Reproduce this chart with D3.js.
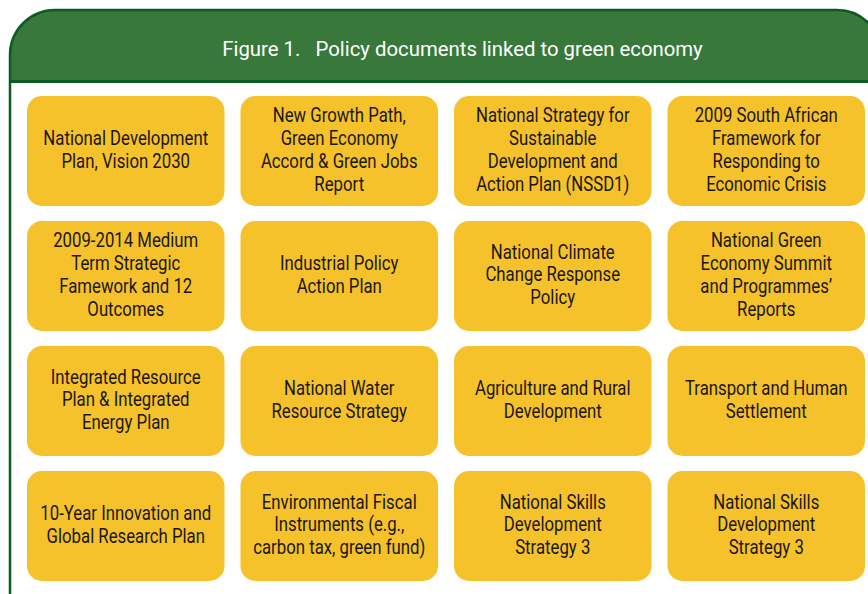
<!DOCTYPE html>
<html>
<head>
<meta charset="utf-8">
<script src="https://cdn.jsdelivr.net/npm/d3@7"></script>
<style>
  html, body { margin: 0; padding: 0; background: #ffffff; }
  svg { display: block; }
</style>
</head>
<body>
<div id="chart"></div>
<script>
// ---- data ----
const title = "Figure 1.   Policy documents linked to green economy";
const columns = [0, 1, 2, 3];
const rows = [0, 1, 2, 3];
const documents = [
  ["National Development", "Plan, Vision 2030"],
  ["New Growth Path,", "Green Economy", "Accord & Green Jobs", "Report"],
  ["National Strategy for", "Sustainable", "Development and", "Action Plan (NSSD1)"],
  ["2009 South African", "Framework for", "Responding to", "Economic Crisis"],
  ["2009-2014 Medium", "Term Strategic", "Famework and 12", "Outcomes"],
  ["Industrial Policy", "Action Plan"],
  ["National Climate", "Change Response", "Policy"],
  ["National Green", "Economy Summit", "and Programmes’", "Reports"],
  ["Integrated Resource", "Plan & Integrated", "Energy Plan"],
  ["National Water", "Resource Strategy"],
  ["Agriculture and Rural", "Development"],
  ["Transport and Human", "Settlement"],
  ["10-Year Innovation and", "Global Research Plan"],
  ["Environmental Fiscal", "Instruments (e.g.,", "carbon tax, green fund)"],
  ["National Skills", "Development", "Strategy 3"],
  ["National Skills", "Development", "Strategy 3"]
];

// ---- drawing ----
const W = 868, H = 594;
const FONT = "Roboto, 'Liberation Sans', sans-serif";
const svg = d3.select("#chart").append("svg").attr("width", W).attr("height", H);

function measure(str, size) {
  const t = svg.append("text").attr("font-family", FONT).attr("font-size", size)
    .style("white-space", "pre").text(str);
  const w = t.node().getComputedTextLength();
  t.remove();
  return w;
}

const px0 = 10, py0 = 10, px1 = 882, py1 = 640, r = 45, headerBottom = 81.5;
const darkGreen = "#0e5a24", headerGreen = "#38783a";

const headerPath = `M${px0},${headerBottom} L${px0},${py0 + r} A${r},${r} 0 0 1 ${px0 + r},${py0} L${px1 - r},${py0} A${r},${r} 0 0 1 ${px1},${py0 + r} L${px1},${headerBottom} Z`;
svg.append("path").attr("d", headerPath).attr("fill", headerGreen);

const panelPath = `M${px0},${py1} L${px0},${py0 + r} A${r},${r} 0 0 1 ${px0 + r},${py0} L${px1 - r},${py0} A${r},${r} 0 0 1 ${px1},${py0 + r} L${px1},${py1}`;
svg.append("path").attr("d", panelPath).attr("fill", "none").attr("stroke", darkGreen).attr("stroke-width", 2.5);
svg.append("line").attr("x1", px0).attr("x2", px1).attr("y1", headerBottom).attr("y2", headerBottom)
  .attr("stroke", darkGreen).attr("stroke-width", 3);

// title, horizontally condensed to match the reference width
const titleSize = 21;
const titleScale = 481 / measure(title, titleSize);
svg.append("text")
  .attr("transform", `translate(462.5,56) scale(${titleScale},1)`)
  .attr("text-anchor", "middle")
  .style("white-space", "pre")
  .attr("font-family", FONT).attr("font-size", titleSize)
  .attr("fill", "#ffffff")
  .text(title);

const x = d3.scaleBand().domain(columns).range([27, 865]).paddingInner(16 / 213.5);
const y = d3.scaleBand().domain(rows).range([96, 581]).paddingInner(15 / 125);

const cells = documents.map((lines, i) => ({ lines, col: columns[i % 4], row: rows[Math.floor(i / 4)] }));

const g = svg.selectAll("g.box").data(cells).join("g").attr("class", "box")
  .attr("transform", d => `translate(${x(d.col)},${y(d.row)})`);

g.append("rect")
  .attr("width", x.bandwidth()).attr("height", y.bandwidth())
  .attr("rx", 15).attr("ry", 15)
  .attr("fill", "#f6c22b");

const boxSize = 20;
const boxScale = 171 / measure("10-Year Innovation and", boxSize);
const lh = 22.7;
g.each(function(d) {
  const t = d3.select(this).append("text")
    .attr("transform", `translate(${x.bandwidth() / 2},0) scale(${boxScale},1)`)
    .attr("text-anchor", "middle")
    .attr("font-family", FONT).attr("font-size", boxSize)
    .attr("fill", "#1a1713");
  const n = d.lines.length;
  d.lines.forEach((line, i) => {
    t.append("tspan")
      .attr("x", 0)
      .attr("y", y.bandwidth() / 2 - 1 + (i - (n - 1) / 2) * lh)
      .attr("dominant-baseline", "central")
      .text(line);
  });
});
</script>
</body>
</html>
